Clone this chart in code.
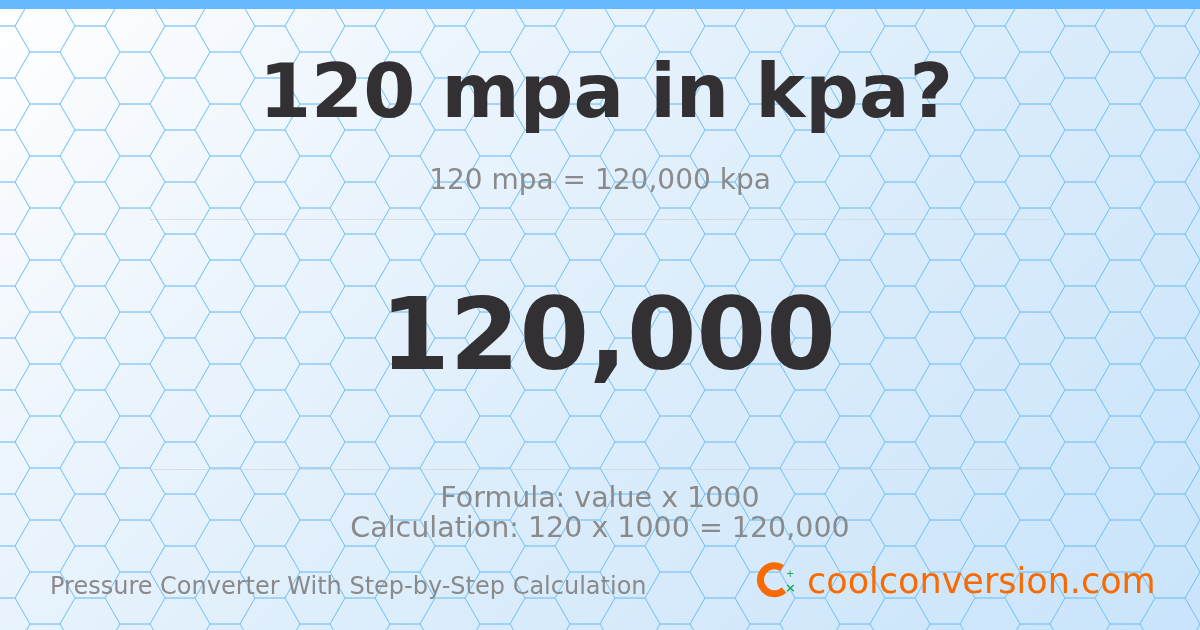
<!DOCTYPE html>
<html>
<head>
<meta charset="utf-8">
<script src="https://cdn.jsdelivr.net/npm/chart.js@4"></script>
<style>
  html, body { margin: 0; padding: 0; }
  body { width: 1200px; height: 630px; overflow: hidden; position: relative; font-family: "DejaVu Sans", sans-serif;
    background: linear-gradient(135deg, #ffffff 0%, #f3f8fd 18%, #eaf4fd 30%, #dcedfb 55%, #c9e4fb 100%); }
  #hex { position: absolute; left: 0; top: 0; }
  #bar { position: absolute; left: 0; top: 0; width: 1200px; height: 9px; background: #66b8ff; }
  .t { position: absolute; width: 1200px; text-align: center; left: 0; }
  .rule { position: absolute; left: 150px; width: 900px; height: 1px; background: rgba(200,200,200,0.5); }
</style>
</head>
<body>
<canvas id="hex" width="1200" height="630"></canvas>
<div id="bar"></div>
<div class="t" style="top:47px;font-size:75px;font-weight:bold;color:#333033;text-indent:12px">120 mpa in kpa?</div>
<div class="t" style="top:163px;font-size:28px;color:#8a8a8a">120 mpa = 120,000 kpa</div>
<div class="rule" style="top:219px"></div>
<div class="t" style="top:276px;font-size:100px;font-weight:bold;color:#333033;text-indent:16px">120,000</div>
<div class="rule" style="top:469px"></div>
<div class="t" style="top:481px;font-size:28.5px;color:#8a8a8a">Formula: value x 1000</div>
<div class="t" style="top:511px;font-size:28.5px;color:#8a8a8a">Calculation: 120 x 1000 = 120,000</div>
<div style="position:absolute;left:50px;top:572px;font-size:24px;color:#8a8a8a">Pressure Converter With Step-by-Step Calculation</div>
<div style="position:absolute;left:807px;top:561px;font-size:35px;color:#f96a00">coolconversion.com</div>
<svg style="position:absolute;left:752px;top:560px" width="50" height="40">
  <path d="M30 8 A14 14 0 1 0 32 30" stroke="#f96a00" stroke-width="7" fill="none"/>
  <text x="33" y="32" font-size="13" fill="#1bb14a" font-weight="bold">×</text>
  <text x="34" y="17" font-size="10" fill="#1bb14a">+</text>
</svg>
<script>
  // honeycomb geometry (flat-top cells)
  const HEX_COL_STEP = 45;
  const HEX_ROW_STEP = 52;
  const ctx = document.getElementById("hex").getContext("2d");
  ctx.strokeStyle = "rgba(120,195,245,0.75)";
  ctx.lineWidth = 1;
  for (let k = -1; k < 30; k++) {
    const cx = 45 + HEX_COL_STEP * k;
    for (let j = -2; j < 14; j++) {
      const cy = 78 - (k % 2 ? 26 : 0) + HEX_ROW_STEP * j;
      ctx.beginPath();
      ctx.moveTo(cx - 30, cy);
      ctx.lineTo(cx - 15, cy - 26);
      ctx.lineTo(cx + 15, cy - 26);
      ctx.lineTo(cx + 30, cy);
      ctx.lineTo(cx + 15, cy + 26);
      ctx.lineTo(cx - 15, cy + 26);
      ctx.closePath();
      ctx.stroke();
    }
  }
</script>
</body>
</html>
